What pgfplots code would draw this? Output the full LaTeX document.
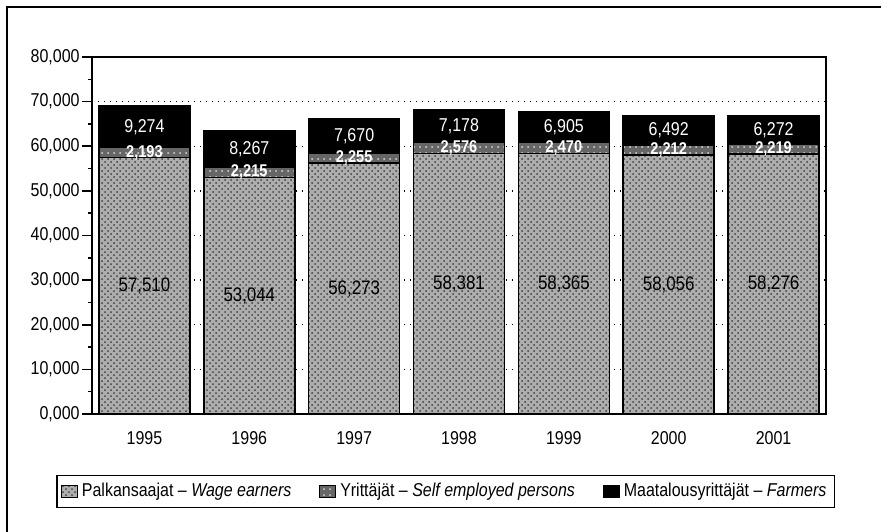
\documentclass[border=0pt]{standalone}
\usepackage{fontspec}
\setmainfont{Liberation Sans}[FakeStretch=0.86]
\usepackage{pgfplots}
\pgfplotsset{compat=1.18}
\usepackage{pgfplotstable}
\usetikzlibrary{patterns}
\newcommand\f{\fontsize{9.3}{11}\selectfont}
\pgfplotstableread{
x w s f
0 57510 2193 9274
1 53044 2215 8267
2 56273 2255 7670
3 58381 2576 7178
4 58365 2470 6905
5 58056 2212 6492
6 58276 2219 6272
}\data
\begin{document}
\begin{tikzpicture}
\useasboundingbox (-46pt,-58.5pt) rectangle (394.5pt,207pt);
\draw[line width=0.8pt] (-42.5pt,-60pt) -- (-42.5pt,203.5pt) -- (396pt,203.5pt);
\begin{axis}[at={(0,0)}, anchor=south west, scale only axis,
  width=367pt, height=178.5pt,
  xmin=-0.5, xmax=6.5, ymin=0, ymax=80000, enlargelimits=false,
  ybar stacked, bar width=45.5pt,
  axis line style={line width=1pt},
  xtick=data, xticklabels={1995,1996,1997,1998,1999,2000,2001},
  xtick style={draw=none},
  scaled y ticks=false,
  ytick={0,10000,...,80000},
  yticklabels={{0,000},{10,000},{20,000},{30,000},{40,000},{50,000},{60,000},{70,000},{80,000}},
  minor y tick num=1, tick align=outside,
  ytick pos=left,
  major tick length=5pt, minor tick length=2pt,
  every tick/.style={black, line width=0.8pt},
  ymajorgrids, grid style={black, line width=0.7pt, dash pattern=on 0.7pt off 2.3pt},
  ticklabel style={font=\f},
  yticklabel style={inner xsep=1pt},
  legend columns=3,
  legend style={at={(0.482,-0.217)}, anchor=center, draw=black, line width=0.6pt,
    font=\f, inner sep=2pt, /tikz/every even column/.append style={column sep=12pt}},
  legend image code/.code={\draw[#1, line width=0.4pt] (0pt,-2.8pt) rectangle (8pt,3.2pt);},
]
\addplot[draw=black, line width=0.8pt, fill=black!32, postaction={pattern=crosshatch dots, pattern color=black!75}] table[x=x, y=w] {\data};
\addplot[draw=black, line width=0.8pt, fill=black!60, postaction={pattern=dots, pattern color=white!85!black}] table[x=x, y=s] {\data};
\addplot[draw=black, line width=0.8pt, fill=black] table[x=x, y=f] {\data};
\legend{Palkansaajat -- \textit{Wage earners}, Yrittäjät -- \textit{Self employed persons}, Maatalousyrittäjät -- \textit{Farmers}}
\node[anchor=base west, font=\f, inner sep=0pt] at ([xshift=2.5pt, yshift=3pt]rel axis cs:0,1) {Työtapaturmaa -- \textit{Accidents at work}};
\end{axis}
\begin{axis}[at={(0,0)}, anchor=south west, scale only axis,
  width=367pt, height=178.5pt,
  xmin=-0.5, xmax=6.5, ymin=0, ymax=80000, enlargelimits=false,
  hide axis,
  nodes near coords, point meta=explicit,
  nodes near coords={\pgfmathprintnumber[fixed, 1000 sep={,}, assume math mode=true]{\pgfplotspointmeta}},
  every node near coord/.append style={anchor=center, inner sep=0pt, font=\f},
]
\addplot[draw=none, mark=none, nodes near coords style={text=black, font=\fontsize{9.8}{11}\selectfont}] table[x=x, y expr=\thisrow{w}/2, meta=w] {\data};
\addplot[draw=none, mark=none, nodes near coords style={text=white, font=\fontsize{8.5}{10}\selectfont\bfseries}] table[x=x, y expr=\thisrow{w}+\thisrow{s}/2, meta=s] {\data};
\addplot[draw=none, mark=none, nodes near coords style={text=white}] table[x=x, y expr=\thisrow{w}+\thisrow{s}+\thisrow{f}/2, meta=f] {\data};
\end{axis}
\end{tikzpicture}
\end{document}
